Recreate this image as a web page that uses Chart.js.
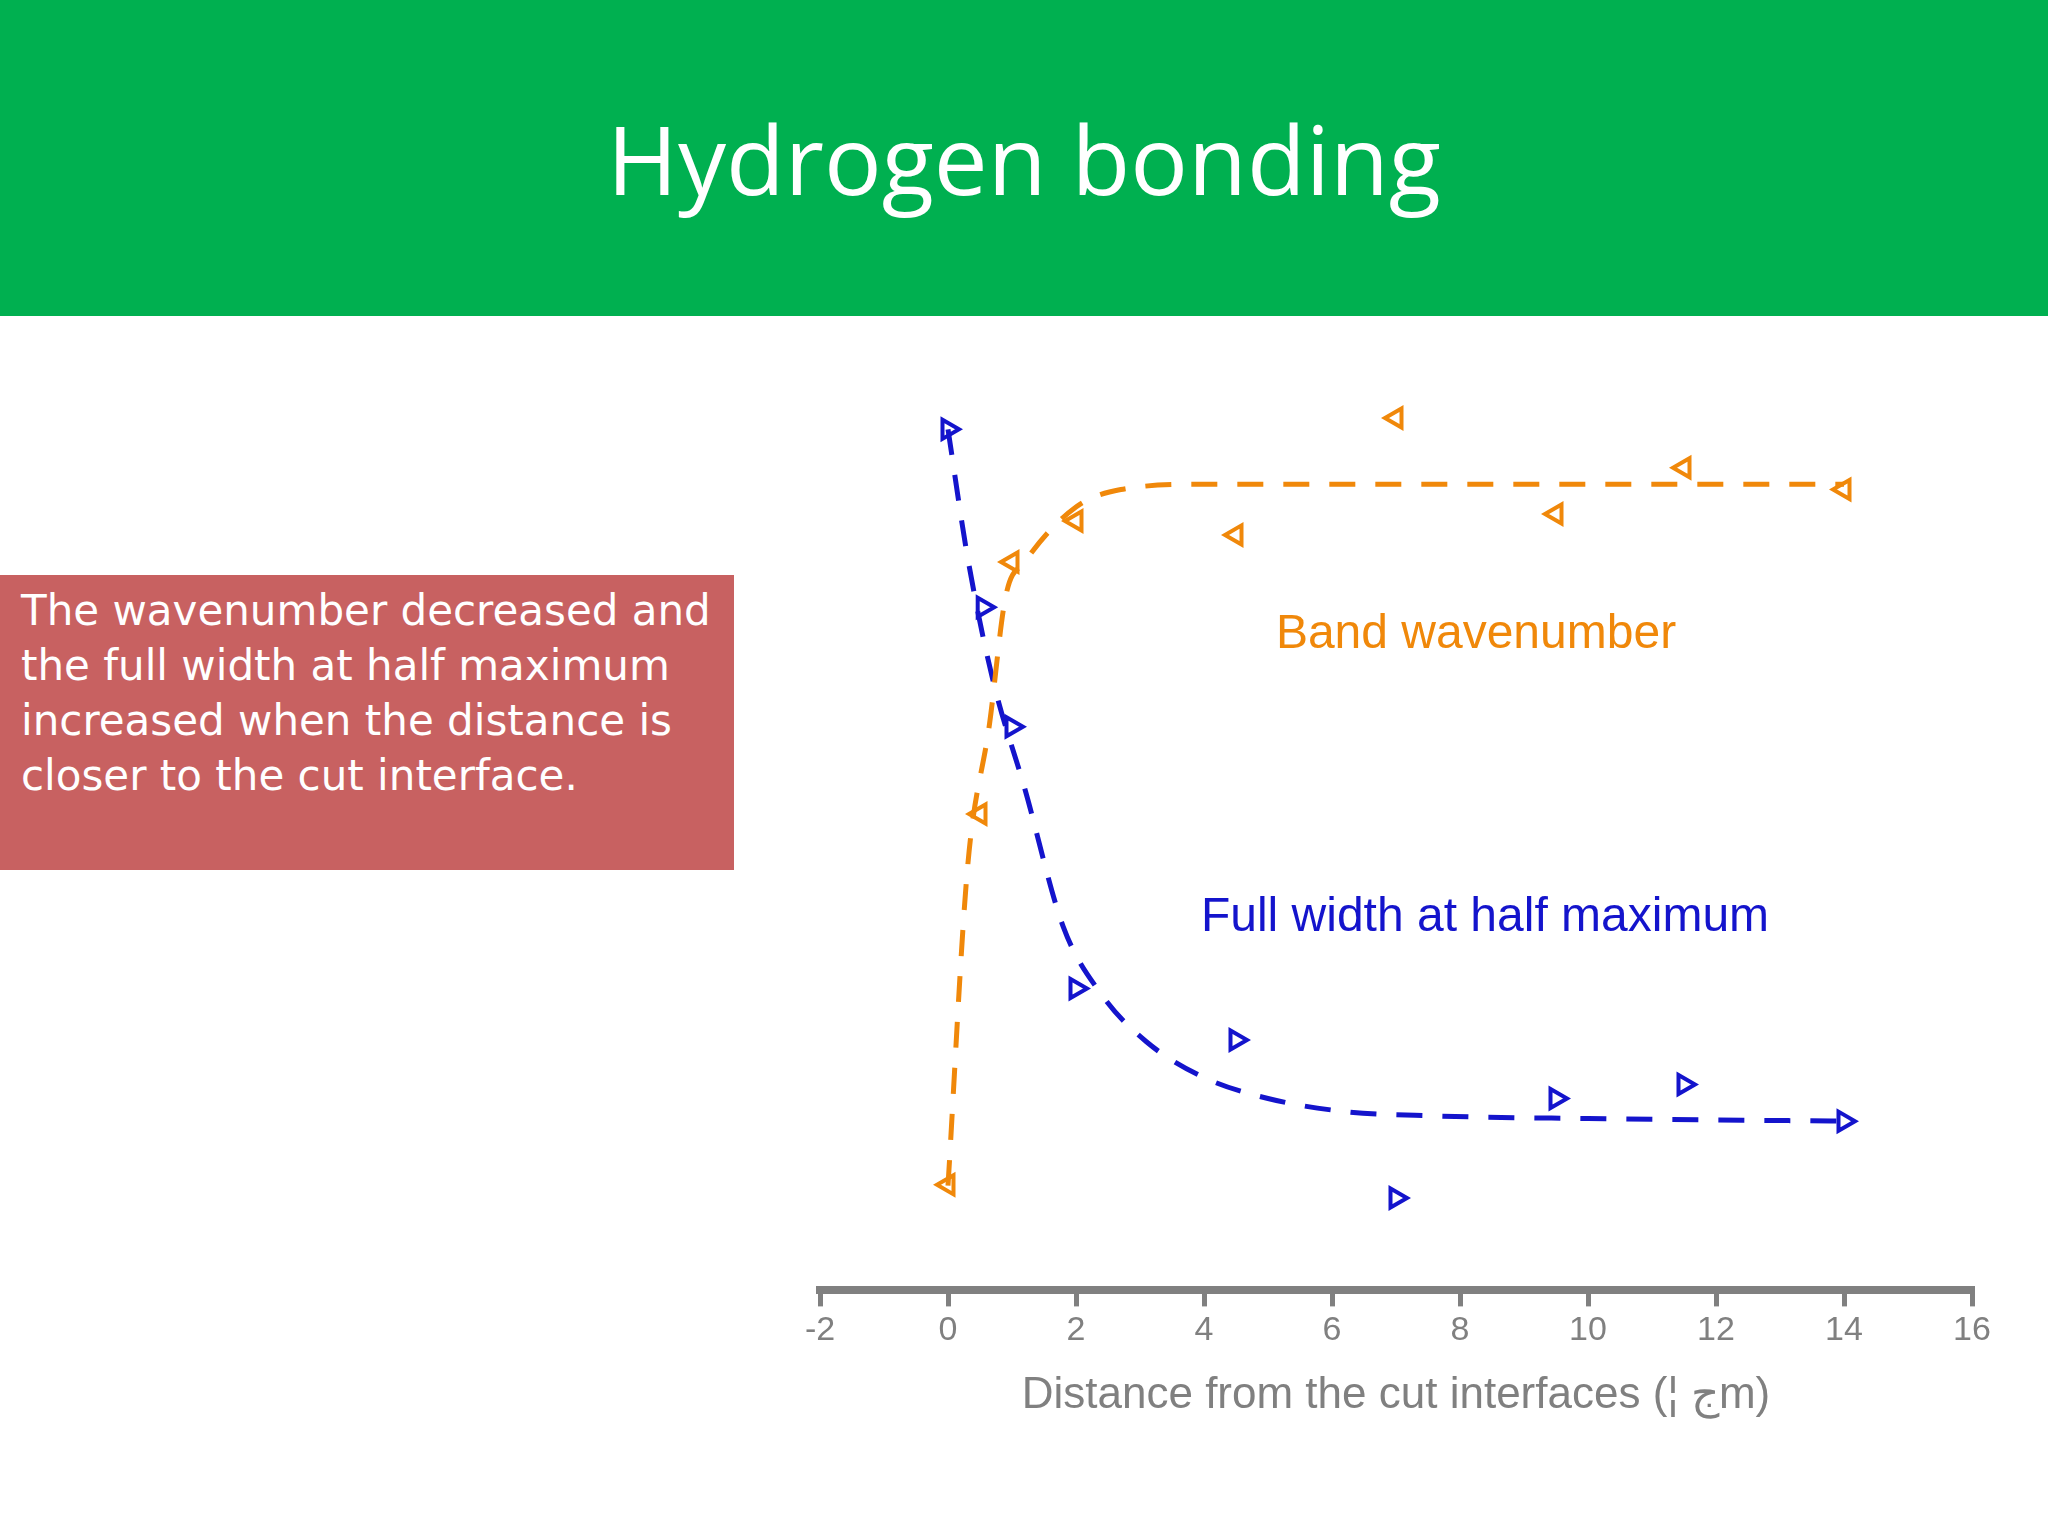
<!DOCTYPE html>
<html><head><meta charset="utf-8">
<script src="https://cdn.jsdelivr.net/npm/chart.js@4"></script>
<style>
body{margin:0;width:2048px;height:1536px;position:relative;background:#fff;overflow:hidden;font-family:"Open Sans",sans-serif}
#hdr{position:absolute;left:0;top:0;width:2048px;height:316px;background:#00B050;color:#fff;font-size:96px;text-align:center;line-height:316px}
#box{position:absolute;left:0;top:575px;width:734px;height:295px;background:#C86161;color:#fff;font-family:"DejaVu Sans",sans-serif;font-size:42px;line-height:55px;padding:8px 0 0 21px;box-sizing:border-box}
#c{position:absolute;left:0;top:0}
.lab{position:absolute;font-family:"Liberation Sans",Arial,sans-serif;font-size:48px;white-space:nowrap;transform:translate(-50%,-50%)}
</style></head><body>
<div id="hdr">Hydrogen bonding</div>
<div id="box">The wavenumber decreased and the full width at half maximum increased when the distance is closer to the cut interface.</div>
<canvas id="c" width="2048" height="1536"></canvas>
<div class="lab" style="left:1476px;top:631px;color:#F0880A">Band wavenumber</div>
<div class="lab" style="left:1485px;top:914px;color:#1414CC">Full width at half maximum</div>
<script>
const xTicks=[-2,0,2,4,6,8,10,12,14,16];
const axisTitle="Distance from the cut interfaces (\u00A6 \u062Cm)";
const bandX=[0,0.5,1,2,4.5,7,9.5,11.5,14];
const bandY=[12.1,54.6,83.5,88.2,86.6,100,89,94.3,91.8];
const bandFitX=[0,0.3,0.65,0.9,1.2,2,2.7,4,8,14];
const bandFitY=[12,48,65,79.5,83.5,89.8,91.8,92.4,92.4,92.4];
const fwhmX=[0,0.55,1,2,4.5,7,9.5,11.5,14];
const fwhmY=[98.7,78.3,64.6,34.6,28.7,10.6,22,23.6,19.4];
const fwhmFitX=[0,0.3,0.7,1.2,1.8,2.4,3.1,4,5,6.2,7.6,10,14];
const fwhmFitY=[98.7,84.3,70,57.5,41.7,33.9,28.5,24.4,22,20.5,20,19.7,19.4];
const OR='#F0880A',BL='#1414CC';
const pts=(xs,ys)=>xs.map((x,i)=>({x,y:ys[i]}));
new Chart(document.getElementById('c'),{
 type:'scatter',
 data:{datasets:[
  {data:pts(bandFitX,bandFitY),showLine:true,borderColor:OR,borderWidth:5,borderDash:[26,20],pointRadius:0,tension:0.4,cubicInterpolationMode:'monotone'},
  {data:pts(fwhmFitX,fwhmFitY),showLine:true,borderColor:BL,borderWidth:5,borderDash:[26,20],pointRadius:0,cubicInterpolationMode:'monotone'},
  {data:pts(bandX,bandY),pointStyle:'triangle',rotation:-90,pointRadius:11,borderColor:OR,borderWidth:4,backgroundColor:'rgba(0,0,0,0)'},
  {data:pts(fwhmX,fwhmY),pointStyle:'triangle',rotation:90,pointRadius:11,borderColor:BL,borderWidth:4,backgroundColor:'rgba(0,0,0,0)'}
 ]},
 options:{responsive:false,animation:false,clip:false,
  layout:{padding:{left:820,right:76,top:418,bottom:110}},
  plugins:{legend:{display:false},tooltip:{enabled:false}},
  scales:{
   x:{type:'linear',min:-2,max:16,afterBuildTicks:a=>{a.ticks=xTicks.map(v=>({value:v}))},
    border:{display:true,color:'#808080',width:8},
    grid:{drawOnChartArea:false,drawTicks:true,tickLength:16,color:'#808080',lineWidth:5},
    ticks:{color:'#808080',font:{family:'Liberation Sans',size:34},padding:4},
    title:{display:true,text:axisTitle,color:'#808080',font:{family:'Liberation Sans',size:44},padding:{top:14}}},
   y:{min:0,max:100,display:false}
  }}
});
</script></body></html>
